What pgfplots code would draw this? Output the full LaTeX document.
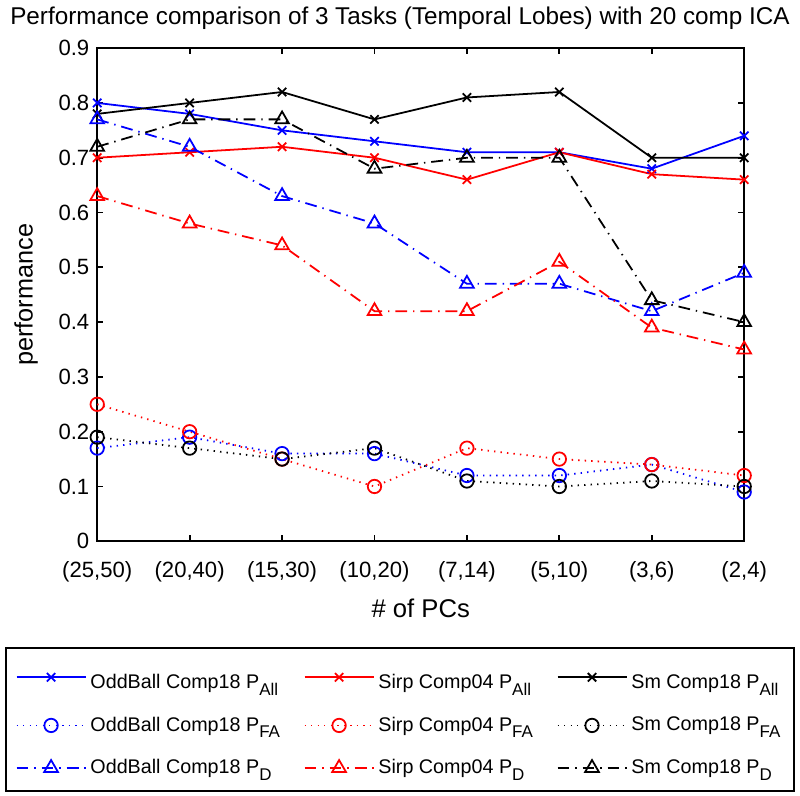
\documentclass[border=0pt]{standalone}
\usepackage{fontspec}
\setmainfont{Liberation Sans}
\usepackage{pgfplots}
\usepackage{pgfplotstable}
\pgfplotsset{compat=1.18}

\pgfplotstableread{
x oap sap map ofa sfa mfa opd spd mpd
0 0.80 0.70 0.78 0.17 0.25 0.19 0.77 0.63 0.72
1 0.78 0.71 0.80 0.19 0.20 0.17 0.72 0.58 0.77
2 0.75 0.72 0.82 0.16 0.15 0.15 0.63 0.54 0.77
3 0.73 0.70 0.77 0.16 0.10 0.17 0.58 0.42 0.68
4 0.71 0.66 0.81 0.12 0.17 0.11 0.47 0.42 0.70
5 0.71 0.71 0.82 0.12 0.15 0.10 0.47 0.51 0.70
6 0.68 0.67 0.70 0.14 0.14 0.11 0.42 0.39 0.44
7 0.74 0.66 0.70 0.09 0.12 0.10 0.49 0.35 0.40
}\data

\definecolor{mblue}{RGB}{0,0,255}
\definecolor{mred}{RGB}{255,0,0}

\newcommand{\sub}[1]{\raisebox{-3.4pt}{\fontsize{8.6}{9}\selectfont #1}}
\newcommand{\tall}{\rule{0pt}{13pt}}

\tikzset{
  pall/.style={solid, line width=0.9pt, mark=x, mark size=3pt, mark options={solid}},
  pfa/.style={line width=0.9pt, dash pattern=on 0.7pt off 2.6pt, mark=o, mark size=3.4pt, mark options={solid}},
  pd/.style={line width=0.9pt, dash pattern=on 6pt off 3pt on 0.7pt off 3pt, mark=triangle, mark size=4pt, mark options={solid}},
}

\begin{document}
\begin{tikzpicture}
\begin{axis}[
  scale only axis, width=328pt, height=250pt,
  xmin=0, xmax=7, ymin=0, ymax=0.9,
  xtick={0,1,2,3,4,5,6,7},
  xticklabels={{(25,50)},{(20,40)},{(15,30)},{(10,20)},{(7,14)},{(5,10)},{(3,6)},{(2,4)}},
  ytick={0,0.1,0.2,0.3,0.4,0.5,0.6,0.7,0.8,0.9},
  yticklabels={0,0.1,0.2,0.3,0.4,0.5,0.6,0.7,0.8,0.9},
  tick align=inside, major tick length=3pt,
  axis line style={line width=0.9pt},
  every tick/.style={black, line width=0.9pt},
  ticklabel style={font=\fontsize{11.2}{13}\selectfont},
  xticklabel style={yshift=-6.5pt},
  yticklabel style={xshift=-0.5pt},
  title={Performance comparison of 3 Tasks (Temporal Lobes) with 20 comp ICA},
  title style={font=\fontsize{12.3}{14}\selectfont, inner sep=3.5pt, at={(axis description cs:0.468,1)}, anchor=base, yshift=6pt},
  xlabel={\# of PCs},
  xlabel style={font=\fontsize{13}{15}\selectfont, at={(axis description cs:0.5,0)}, anchor=base, yshift=-38.5pt},
  ylabel={performance},
  ylabel style={font=\fontsize{12.8}{15}\selectfont, at={(axis description cs:-0.11,0.5)}, anchor=center},
  legend columns=3,
  legend cell align=left,
  legend style={name=leg, at={(axis description cs:0.468,-0.215)}, anchor=north, draw=black, line width=0.9pt,
    font=\fontsize{10}{12}\selectfont, inner xsep=5pt, inner ysep=5.5pt, row sep=8.8pt,
    /tikz/every even column/.append style={column sep=10pt}},
  legend image code/.code={\draw[mark repeat=2,mark phase=2,#1] plot coordinates {(0pt,0pt) (17.5pt,0pt) (35pt,0pt)};},
]
\addplot[pall, mblue] table[x=x,y=oap] {\data};
\addlegendentry{\tall OddBall Comp18 P\sub{All}}
\addplot[pall, mred] table[x=x,y=sap] {\data};
\addlegendentry{\tall Sirp Comp04 P\sub{All}}
\addplot[pall, black] table[x=x,y=map] {\data};
\addlegendentry{\tall Sm Comp18 P\sub{All}}
\addplot[pfa, mblue] table[x=x,y=ofa] {\data};
\addlegendentry{OddBall Comp18 P\sub{FA}}
\addplot[pfa, mred] table[x=x,y=sfa] {\data};
\addlegendentry{Sirp Comp04 P\sub{FA}}
\addplot[pfa, black] table[x=x,y=mfa] {\data};
\addlegendentry{Sm Comp18 P\sub{FA}}
\addplot[pd, mblue] table[x=x,y=opd] {\data};
\addlegendentry{OddBall Comp18 P\sub{D}}
\addplot[pd, mred] table[x=x,y=spd] {\data};
\addlegendentry{Sirp Comp04 P\sub{D}}
\addplot[pd, black] table[x=x,y=mpd] {\data};
\addlegendentry{Sm Comp18 P\sub{D}}
\end{axis}
\path ([xshift=-2.5pt,yshift=-1.5pt]leg.south west) ([xshift=2.5pt]leg.north east);
\end{tikzpicture}
\end{document}
